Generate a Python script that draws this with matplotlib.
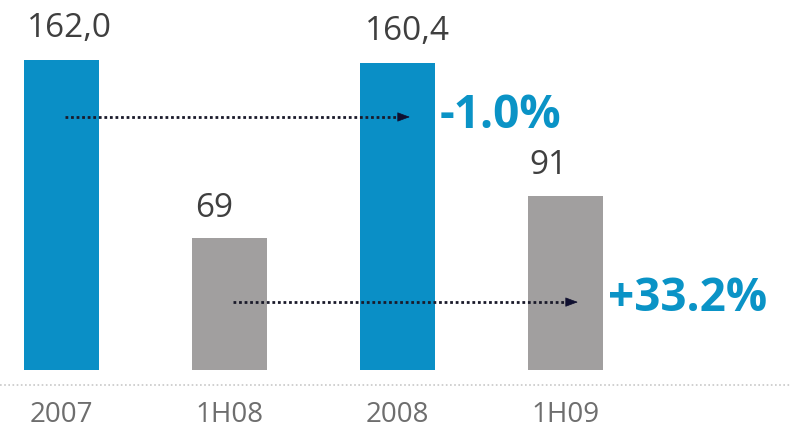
import matplotlib
matplotlib.use("Agg")
import matplotlib.pyplot as plt

categories = ["2007", "1H08", "2008", "1H09"]
values = [162.0, 69, 160.4, 91]
value_labels = ["162,0", "69", "160,4", "91"]
bar_kinds = ["year", "half", "year", "half"]
changes = [("-1.0%", 0, 2), ("+33.2%", 1, 3)]

BLUE = "#0a8fc6"
GRAY = "#a19f9f"
PCT_BLUE = "#0a93c6"
colors = {"year": BLUE, "half": GRAY}

plt.rcParams['font.family'] = ['Open Sans', 'DejaVu Sans']

fig = plt.figure(figsize=(7.91, 4.34), dpi=100)
ax = fig.add_axes([0, 0, 1, 1])
ax.set_xlim(-0.366, 4.342)
ax.set_ylim(-33.4, 193.3)
ax.axis("off")

x = list(range(len(categories)))
ax.bar(x, values, width=0.446, color=[colors[k] for k in bar_kinds], zorder=2)

label_dx = [0.05, -0.09, 0.06, -0.1]
label_gap = [8, 7, 8, 7]
for i, (v, lab) in enumerate(zip(values, value_labels)):
    ax.text(i + label_dx[i], v + label_gap[i], lab, ha="center", va="bottom",
            fontsize=24, color="#3f3f3f")

for i, c in enumerate(categories):
    ax.text(i, -23.5, c, ha="center", va="center", fontsize=20, color="#6e6e6e")

# dotted baseline
ax.plot([-0.366, 4.342], [-7.8, -7.8], linestyle=(0, (1, 1.5)), color="#c8c8c8",
        linewidth=1.2, zorder=1)

arrow_y = [132.2, 35.5]
pct_pos = [(2.25, 133.0), (3.25, 37.5)]
for (txt, a, b), yy, (px, py) in zip(changes, arrow_y, pct_pos):
    x0 = a + 0.02
    x1 = b + 0.09
    ax.plot([x0, x1 - 0.06], [yy, yy], linestyle=(0, (1, 1)), color="#1a1a2a",
            linewidth=2.0, zorder=3)
    ax.annotate("", xy=(x1, yy), xytext=(x1 - 0.08, yy),
                arrowprops=dict(arrowstyle="-|>,head_length=0.8,head_width=0.3",
                                color="#101030", lw=0.5), zorder=4)
    ax.text(px, py, txt, ha="left", va="center", fontsize=33, fontweight="bold",
            color=PCT_BLUE)

fig.savefig("out.png", dpi=100, facecolor="white")
